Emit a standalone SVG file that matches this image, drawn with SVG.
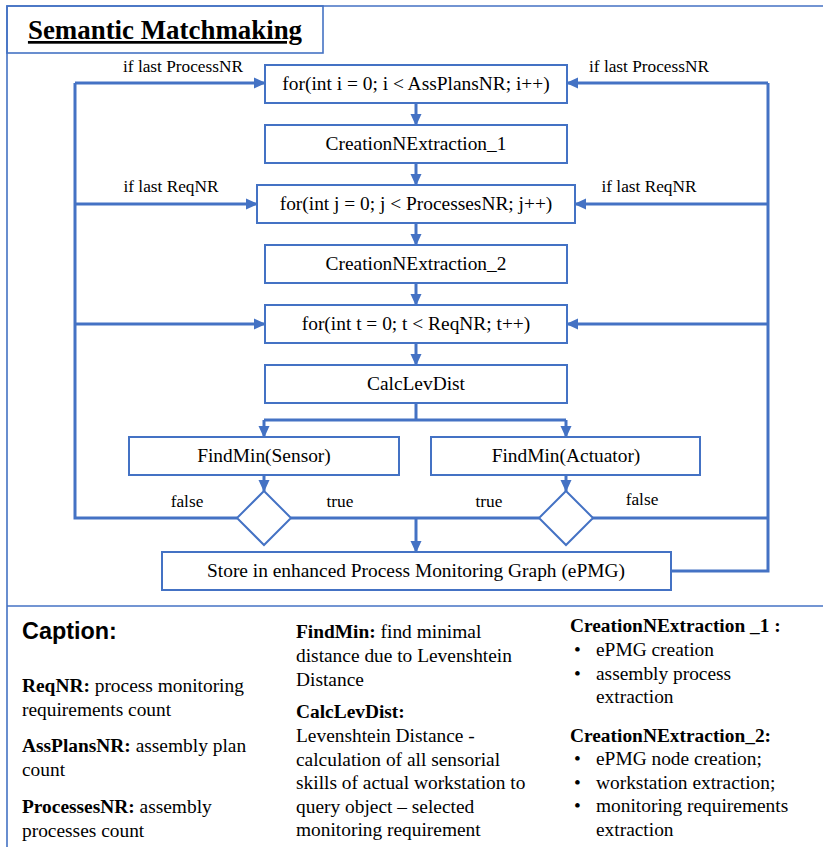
<svg xmlns="http://www.w3.org/2000/svg" width="823" height="847" viewBox="0 0 823 847">
  <style>
    .box { fill: #ffffff; stroke: #4472C4; stroke-width: 2; }
    .frame { fill: none; stroke: #4472C4; stroke-width: 1.6; }
    .wire { fill: none; stroke: #4472C4; stroke-width: 3; }
    .arrow { fill: none; stroke: #4472C4; stroke-width: 3; marker-end: url(#head); }
    .t { font-family: "Liberation Serif", "Times New Roman", serif; fill: #000000; }
    .node { font-size: 19.4px; text-anchor: middle; }
    .lbl { font-size: 17.3px; text-anchor: middle; }
    .cap { font-size: 19.4px; }
    .b { font-weight: bold; }
  </style>
  <defs>
    <marker id="head" markerUnits="userSpaceOnUse" markerWidth="12" markerHeight="12" viewBox="0 0 12 12" refX="11" refY="6" orient="auto">
      <path d="M0,0.5 L12,6 L0,11.5 Z" fill="#4472C4"/>
    </marker>
  </defs>

  <rect width="823" height="847" fill="#ffffff"/>

  <!-- outer frame and caption separator -->
  <g id="frame">
    <path class="frame" d="M7,860 V6 H830"/>
    <path class="frame" d="M7,606 H830"/>
  </g>

  <!-- title -->
  <g id="title">
    <rect class="frame" x="7" y="6" width="316" height="47" fill="#ffffff"/>
    <text class="t b" x="165" y="39" font-size="26.9" text-anchor="middle" text-decoration="underline">Semantic Matchmaking</text>
  </g>

  <!-- connectors -->
  <g id="connectors">
    <!-- main vertical chain -->
    <path class="arrow" d="M416,103 V125"/>
    <path class="arrow" d="M416,163 V185"/>
    <path class="arrow" d="M416,223 V245"/>
    <path class="arrow" d="M416,283 V305"/>
    <path class="arrow" d="M416,343 V365"/>
    <!-- split after CalcLevDist -->
    <path class="wire" d="M416,403 V420 M264,420 H566"/>
    <path class="arrow" d="M264,420 V437"/>
    <path class="arrow" d="M566,420 V437"/>
    <path class="arrow" d="M264,475 V491"/>
    <path class="arrow" d="M566,475 V491"/>
    <!-- true branches into store -->
    <path class="wire" d="M291,518 H539"/>
    <path class="arrow" d="M416,518 V552"/>
    <!-- left loop (sensor false) -->
    <path class="wire" d="M237,518 H75 V83"/>
    <path class="arrow" d="M75,83 H265"/>
    <path class="arrow" d="M75,204 H257"/>
    <path class="arrow" d="M75,324 H265"/>
    <!-- right loop (actuator false / after store) -->
    <path class="wire" d="M592,518 H768 M671,571 H768 V83"/>
    <path class="arrow" d="M768,83 H567"/>
    <path class="arrow" d="M768,204 H575"/>
    <path class="arrow" d="M768,324 H567"/>
  </g>

  <!-- edge labels -->
  <g id="labels" class="t lbl">
    <text x="183" y="72">if last ProcessNR</text>
    <text x="649" y="72">if last ProcessNR</text>
    <text x="171" y="192">if last ReqNR</text>
    <text x="649" y="192">if last ReqNR</text>
    <text x="187" y="507">false</text>
    <text x="340" y="507">true</text>
    <text x="489" y="507">true</text>
    <text x="642" y="505">false</text>
  </g>

  <g id="loop-assplans">
    <rect class="box" x="265" y="65" width="302" height="38"/>
    <text class="t node" x="416" y="90">for(int i = 0; i &lt; AssPlansNR; i++)</text>
  </g>
  <g id="creation-1">
    <rect class="box" x="265" y="125" width="302" height="38"/>
    <text class="t node" x="416" y="150">CreationNExtraction_1</text>
  </g>
  <g id="loop-processes">
    <rect class="box" x="257" y="185" width="318" height="38"/>
    <text class="t node" x="416" y="210">for(int j = 0; j &lt; ProcessesNR; j++)</text>
  </g>
  <g id="creation-2">
    <rect class="box" x="265" y="245" width="302" height="38"/>
    <text class="t node" x="416" y="270">CreationNExtraction_2</text>
  </g>
  <g id="loop-req">
    <rect class="box" x="265" y="305" width="302" height="38"/>
    <text class="t node" x="416" y="330">for(int t = 0; t &lt; ReqNR; t++)</text>
  </g>
  <g id="calc-lev-dist">
    <rect class="box" x="265" y="365" width="302" height="38"/>
    <text class="t node" x="416" y="390">CalcLevDist</text>
  </g>
  <g id="findmin-sensor">
    <rect class="box" x="129" y="437" width="270" height="38"/>
    <text class="t node" x="264" y="462">FindMin(Sensor)</text>
  </g>
  <g id="findmin-actuator">
    <rect class="box" x="431" y="437" width="269" height="38"/>
    <text class="t node" x="566" y="462">FindMin(Actuator)</text>
  </g>
  <g id="decision-sensor">
    <path class="box" d="M264,491 L291,518 L264,545 L237,518 Z"/>
  </g>
  <g id="decision-actuator">
    <path class="box" d="M566,491 L593,518 L566,545 L539,518 Z"/>
  </g>
  <g id="store-epmg">
    <rect class="box" x="162" y="552" width="509" height="38"/>
    <text class="t node" x="416" y="577">Store in enhanced Process Monitoring Graph (ePMG)</text>
  </g>

  <!-- caption -->
  <g id="caption">
    <text x="22" y="639" font-family="'Liberation Sans', Arial, sans-serif" font-weight="bold" font-size="23.4">Caption:</text>
    <g class="t cap">
      <text x="22" y="692"><tspan class="b">ReqNR:</tspan> process monitoring</text>
      <text x="22" y="716">requirements count</text>
      <text x="22" y="752"><tspan class="b">AssPlansNR:</tspan> assembly plan</text>
      <text x="22" y="776">count</text>
      <text x="22" y="813"><tspan class="b">ProcessesNR:</tspan> assembly</text>
      <text x="22" y="837">processes count</text>

      <text x="296" y="638"><tspan class="b">FindMin:</tspan> find minimal</text>
      <text x="296" y="662">distance due to Levenshtein</text>
      <text x="296" y="686">Distance</text>
      <text x="296" y="718" class="b">CalcLevDist:</text>
      <text x="296" y="742">Levenshtein Distance -</text>
      <text x="296" y="766">calculation of all sensorial</text>
      <text x="296" y="789">skills of actual workstation to</text>
      <text x="296" y="813">query object – selected</text>
      <text x="296" y="836">monitoring requirement</text>

      <text x="570" y="632" class="b">CreationNExtraction _1 :</text>
      <text x="574" y="656">•</text>
      <text x="596" y="656">ePMG creation</text>
      <text x="574" y="680">•</text>
      <text x="596" y="680">assembly process</text>
      <text x="596" y="703">extraction</text>
      <text x="570" y="742" class="b">CreationNExtraction_2:</text>
      <text x="574" y="765">•</text>
      <text x="596" y="765">ePMG node creation;</text>
      <text x="574" y="789">•</text>
      <text x="596" y="789">workstation extraction;</text>
      <text x="574" y="812">•</text>
      <text x="596" y="812">monitoring requirements</text>
      <text x="596" y="836">extraction</text>
    </g>
  </g>
</svg>
